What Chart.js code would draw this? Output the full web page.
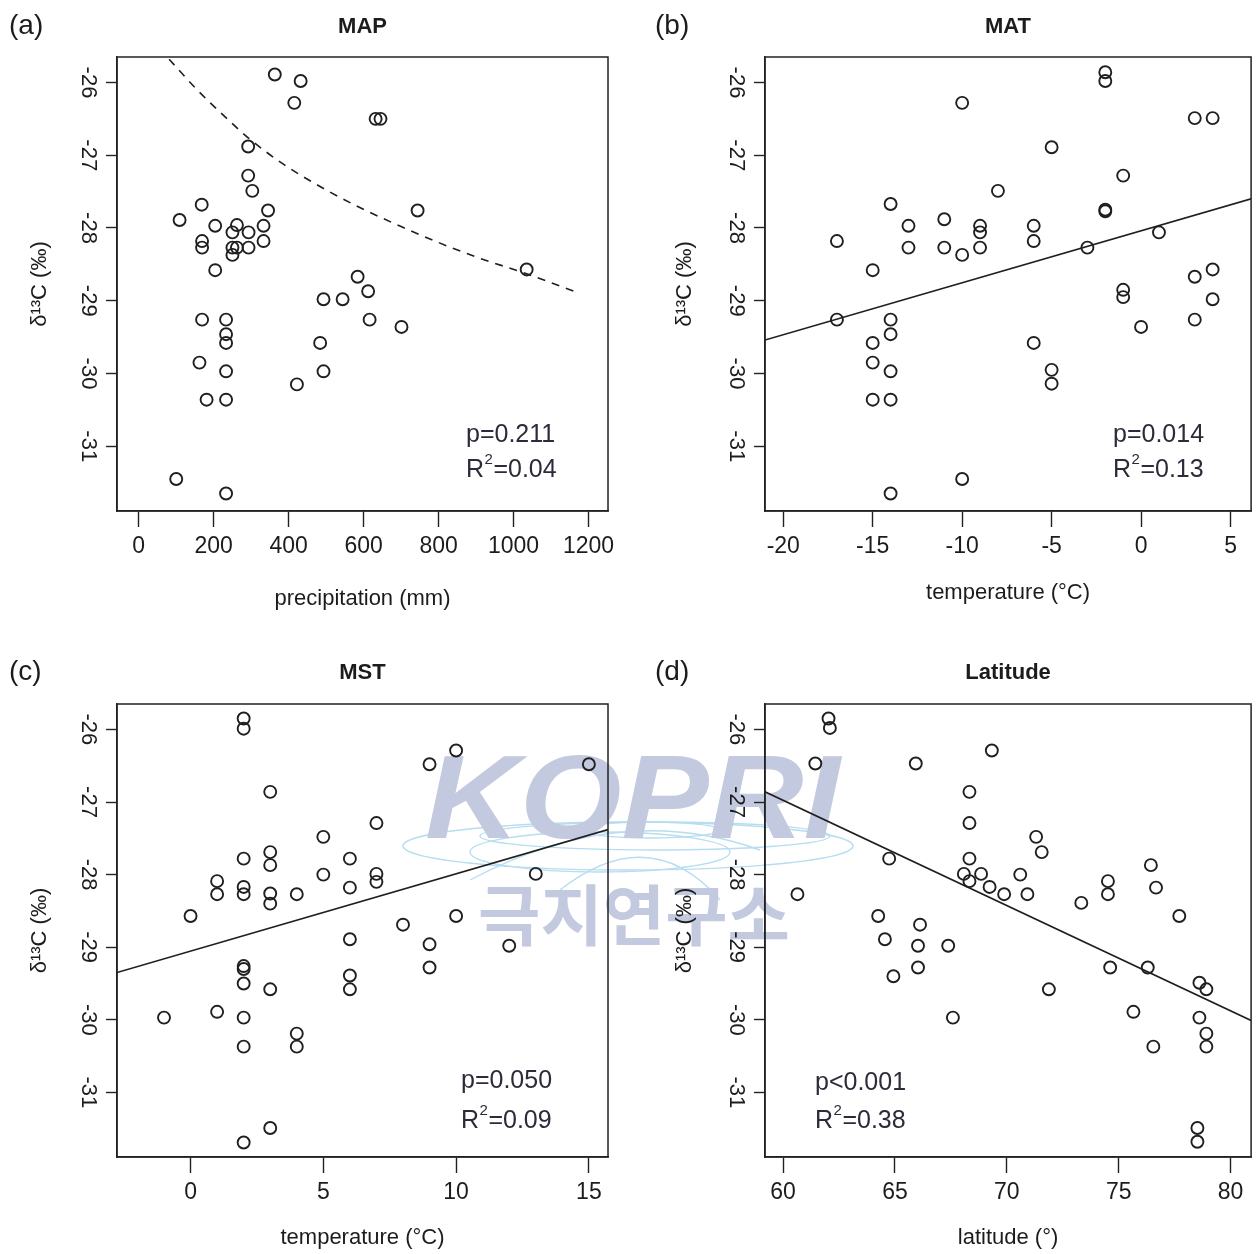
<!DOCTYPE html>
<html><head><meta charset="utf-8">
<script src="https://cdn.jsdelivr.net/npm/chart.js@4.4.0/dist/chart.umd.min.js"></script>
<style>
html,body{margin:0;padding:0;background:#fff;}
#wrap{position:relative;width:1259px;height:1254px;overflow:hidden;background:#fff;}
canvas{position:absolute;}
#wm{position:absolute;left:0;top:0;}
</style></head><body>
<div id="wrap">
<svg id="wm" width="1259" height="1254" xmlns="http://www.w3.org/2000/svg">
  <g fill="none" stroke="#b6ddf0" stroke-width="1.4">
    <ellipse cx="628" cy="846" rx="225" ry="24"/>
    <ellipse cx="655" cy="836" rx="175" ry="14"/>
    <ellipse cx="600" cy="852" rx="130" ry="20"/>
    <ellipse cx="650" cy="830" rx="70" ry="8"/>
    <path d="M 470 880 Q 620 800 760 850"/>
    <path d="M 560 890 Q 650 820 720 900"/>
  </g>
  <text x="425" y="838" font-family="Liberation Sans, Arial, sans-serif" font-weight="bold" font-style="italic" font-size="118" fill="#c3c9de" textLength="415" lengthAdjust="spacingAndGlyphs">KOPRI</text>
  <text x="634" y="940" text-anchor="middle" font-family="Noto Sans CJK KR, sans-serif" font-weight="bold" font-size="66" fill="#c3c9de" textLength="312" lengthAdjust="spacingAndGlyphs">극지연구소</text>
</svg>
<canvas id="ca" style="left:0px;top:0px" width="630" height="627"></canvas>
<canvas id="cb" style="left:630px;top:0px" width="629" height="627"></canvas>
<canvas id="cc" style="left:0px;top:627px" width="630" height="627"></canvas>
<canvas id="cd" style="left:630px;top:627px" width="629" height="627"></canvas>
</div>
<script>
// ---- tick labels ----
const yTicks = [-31, -30, -29, -28, -27, -26];
const xTicksMAP = [0, 200, 400, 600, 800, 1000, 1200];
const xTicksMAT = [-20, -15, -10, -5, 0, 5];
const xTicksMST = [0, 5, 10, 15];
const xTicksLat = [60, 65, 70, 75, 80];

// ---- (a) MAP ----
const mapX = [363, 432, 415, 292, 292, 303, 168, 109, 345, 204, 262, 333, 250, 293, 169, 169, 250, 262, 250, 293, 333, 204, 169, 233, 233, 233, 162, 233, 181, 233, 100, 233, 422, 484, 493, 493, 544, 584, 612, 616, 632, 645, 744, 701, 1035];
const mapY = [-25.89, -25.98, -26.28, -26.88, -27.28, -27.49, -27.68, -27.89, -27.76, -27.97, -27.96, -27.97, -28.06, -28.06, -28.18, -28.27, -28.27, -28.27, -28.37, -28.27, -28.18, -28.58, -29.26, -29.26, -29.46, -29.58, -29.85, -29.97, -30.36, -30.36, -31.45, -31.65, -30.15, -29.58, -29.97, -28.98, -28.98, -28.67, -28.87, -29.26, -26.50, -26.50, -27.76, -29.36, -28.57];
const mapCurveX = [81, 150, 234, 292, 385, 501, 598, 700, 800, 901, 1035, 1166];
const mapCurveY = [-25.68, -26.07, -26.49, -26.76, -27.12, -27.48, -27.74, -27.98, -28.20, -28.40, -28.63, -28.88];

// ---- (b) MAT ----
const matX = [-17, -17, -15, -15, -15, -15, -14, -14, -14, -14, -14, -14, -13, -13, -11, -11, -10, -10, -10, -9, -9, -9, -8, -5, -6, -6, -6, -5, -5, -2, -2, -2, -2, -3, -1, -1, -1, 0, 1, 3, 4, 3, 4, 4, 3];
const matY = [-28.18, -29.26, -28.58, -29.58, -29.85, -30.36, -27.67, -29.26, -29.46, -29.97, -30.36, -31.65, -27.97, -28.27, -27.88, -28.27, -26.28, -28.37, -31.45, -27.97, -28.06, -28.27, -27.49, -26.89, -27.97, -28.18, -29.58, -29.95, -30.14, -25.86, -25.98, -27.75, -27.77, -28.27, -27.28, -28.85, -28.95, -29.36, -28.06, -26.49, -26.49, -28.67, -28.57, -28.98, -29.26];
const matFitX = [-21.02, 6.15];
const matFitY = [-29.54, -27.60];

// ---- (c) MST ----
const mstX = [2, 2, 3, 5, 6, 2, 3, 3, 1, 1, 2, 2, 3, 3, 4, 5, 6, 0, 6, 2, 2, 2, 3, 6, 6, -1, 1, 2, 2, 4, 4, 3, 2, 7, 7, 7, 9, 10, 15, 13, 8, 10, 9, 9, 12];
const mstY = [-25.85, -25.99, -26.86, -27.48, -27.78, -27.78, -27.69, -27.87, -28.09, -28.27, -28.17, -28.27, -28.26, -28.40, -28.27, -28.00, -28.18, -28.57, -28.89, -29.26, -29.30, -29.50, -29.58, -29.39, -29.58, -29.97, -29.89, -29.97, -30.37, -30.19, -30.37, -31.49, -31.69, -27.29, -27.99, -28.10, -26.48, -26.29, -26.48, -27.99, -28.69, -28.57, -28.96, -29.28, -28.98];
const mstFitX = [-2.77, 15.72];
const mstFitY = [-29.35, -27.38];

// ---- (d) Latitude ----
const latX = [62.03, 62.09, 61.44, 65.93, 69.33, 68.33, 68.33, 68.33, 64.74, 68.08, 68.33, 68.85, 69.23, 69.88, 60.64, 64.25, 66.12, 64.55, 66.03, 67.38, 66.03, 64.93, 67.59, 70.92, 70.60, 71.31, 71.56, 73.33, 74.52, 74.52, 76.44, 76.67, 77.71, 74.62, 76.30, 71.88, 75.66, 76.55, 78.61, 78.92, 78.61, 78.92, 78.92, 78.52, 78.52];
const latY = [-25.85, -25.98, -26.47, -26.47, -26.29, -26.86, -27.29, -27.78, -27.78, -27.99, -28.09, -27.99, -28.17, -28.27, -28.27, -28.57, -28.69, -28.89, -28.98, -28.98, -29.28, -29.40, -29.97, -28.27, -28.00, -27.48, -27.69, -28.39, -28.09, -28.27, -27.87, -28.18, -28.57, -29.28, -29.28, -29.58, -29.89, -30.37, -29.49, -29.58, -29.97, -30.19, -30.37, -31.49, -31.68];
const latFitX = [59.19, 80.92];
const latFitY = [-26.86, -30.01];

const FAM = '"Liberation Sans", Arial, Helvetica, sans-serif';
const INK = '#1c1c1c';

function pts(xs, ys) { return xs.map((x, i) => ({x: x, y: ys[i]})); }

const panelPlugin = {
  id: 'panelDecor',
  afterDraw(chart, args, o) {
    const ctx = chart.ctx, a = chart.chartArea;
    ctx.save();
    ctx.strokeStyle = '#222'; ctx.lineWidth = 1.5;
    ctx.strokeRect(a.left, a.top, a.right - a.left, a.bottom - a.top);
    ctx.fillStyle = INK;
    ctx.textBaseline = 'middle';
    ctx.textAlign = 'center';
    ctx.font = 'bold 22px ' + FAM;
    ctx.fillText(o.title, (a.left + a.right) / 2, o.titleY);
    ctx.textAlign = 'left';
    ctx.font = '28px ' + FAM;
    ctx.fillText(o.label, o.labelX, o.titleY - 1);
    // statistics
    ctx.fillStyle = '#2b2b3a';
    ctx.textBaseline = 'alphabetic';
    ctx.font = '25px ' + FAM;
    ctx.fillText(o.p, o.annX, o.pY);
    ctx.fillText('R', o.annX, o.rY);
    const wR = ctx.measureText('R').width;
    ctx.font = '15px ' + FAM;
    ctx.fillText('2', o.annX + wR + 0.5, o.rY - 13);
    const w2 = ctx.measureText('2').width;
    ctx.font = '25px ' + FAM;
    ctx.fillText(o.r2, o.annX + wR + w2 + 1, o.rY);
    ctx.restore();
  }
};

function makeChart(id, spec) {
  const datasets = [{
    data: pts(spec.xs, spec.ys),
    showLine: false,
    pointRadius: 6,
    pointBorderWidth: 1.9,
    pointBorderColor: '#1f1f1f',
    pointBackgroundColor: 'rgba(0,0,0,0)',
    pointStyle: 'circle'
  }];
  if (spec.lineX) {
    datasets.push({
      data: pts(spec.lineX, spec.lineY),
      showLine: true,
      pointRadius: 0,
      borderColor: '#1f1f1f',
      borderWidth: 1.6,
      borderDash: spec.dashed ? [8, 7] : [],
      tension: spec.dashed ? 0.4 : 0,
      cubicInterpolationMode: spec.dashed ? 'monotone' : 'default',
      fill: false
    });
  }
  return new Chart(document.getElementById(id), {
    type: 'scatter',
    data: {datasets: datasets},
    options: {
      responsive: false,
      animation: false,
      events: [],
      layout: {padding: {top: spec.padTop, right: spec.padRight, left: 0, bottom: 0}},
      plugins: {
        legend: {display: false},
        tooltip: {enabled: false},
        panelDecor: spec.decor
      },
      scales: {
        x: {
          type: 'linear', position: 'bottom',
          min: spec.xmin, max: spec.xmax,
          afterBuildTicks: s => { s.ticks = spec.xticks.map(v => ({value: v})); },
          afterFit: s => { s.height = spec.bottomH; },
          grid: {display: true, drawOnChartArea: false, drawTicks: true, tickLength: 16, tickWidth: 1.4, tickColor: '#222'},
          border: {display: true, color: '#222', width: 1.5},
          ticks: {padding: 6, maxRotation: 0, minRotation: 0, autoSkip: false, color: INK, font: {size: 23, family: FAM}, callback: v => String(v)},
          title: {display: true, text: spec.xtitle, color: INK, font: {size: 22, family: FAM}, padding: {top: 0, bottom: spec.xTitlePad}}
        },
        y: {
          type: 'linear', position: 'left',
          min: -31.89, max: -25.65,
          afterBuildTicks: s => { s.ticks = yTicks.map(v => ({value: v})); },
          afterFit: s => { s.width = spec.leftW; },
          grid: {display: true, drawOnChartArea: false, drawTicks: true, tickLength: 11, tickWidth: 1.4, tickColor: '#222'},
          border: {display: true, color: '#222', width: 1.5},
          ticks: {minRotation: -90, maxRotation: -90, crossAlign: 'center', padding: 2, autoSkip: false, color: INK, font: {size: 22, family: FAM}, callback: v => String(v)},
          title: {display: true, text: 'δ¹³C (‰)', color: INK, font: {size: 22, family: FAM}, padding: {top: spec.yTitlePad, bottom: 0}}
        }
      }
    },
    plugins: [panelPlugin]
  });
}

makeChart('ca', {
  xs: mapX, ys: mapY, lineX: mapCurveX, lineY: mapCurveY, dashed: true,
  xmin: -58, xmax: 1252, xticks: xTicksMAP, xtitle: 'precipitation (mm)',
  padTop: 57, padRight: 22, leftW: 117, bottomH: 116, xTitlePad: 15, yTitlePad: 27,
  decor: {title: 'MAP', titleY: 27, label: '(a)', labelX: 9, p: 'p=0.211', r2: '=0.04', annX: 466, pY: 442, rY: 477}
});
makeChart('cb', {
  xs: matX, ys: matY, lineX: matFitX, lineY: matFitY,
  xmin: -21.02, xmax: 6.15, xticks: xTicksMAT, xtitle: 'temperature (°C)',
  padTop: 57, padRight: 5, leftW: 135, bottomH: 116, xTitlePad: 21, yTitlePad: 42,
  decor: {title: 'MAT', titleY: 27, label: '(b)', labelX: 25, p: 'p=0.014', r2: '=0.13', annX: 483, pY: 442, rY: 477}
});
makeChart('cc', {
  xs: mstX, ys: mstY, lineX: mstFitX, lineY: mstFitY,
  xmin: -2.77, xmax: 15.72, xticks: xTicksMST, xtitle: 'temperature (°C)',
  padTop: 77, padRight: 22, leftW: 117, bottomH: 97, xTitlePad: 3, yTitlePad: 27,
  decor: {title: 'MST', titleY: 46, label: '(c)', labelX: 9, p: 'p=0.050', r2: '=0.09', annX: 461, pY: 461, rY: 501}
});
makeChart('cd', {
  xs: latX, ys: latY, lineX: latFitX, lineY: latFitY,
  xmin: 59.19, xmax: 80.92, xticks: xTicksLat, xtitle: 'latitude (°)',
  padTop: 77, padRight: 5, leftW: 135, bottomH: 97, xTitlePad: 3, yTitlePad: 42,
  decor: {title: 'Latitude', titleY: 46, label: '(d)', labelX: 25, p: 'p<0.001', r2: '=0.38', annX: 185, pY: 463, rY: 501}
});
</script>
</body></html>
